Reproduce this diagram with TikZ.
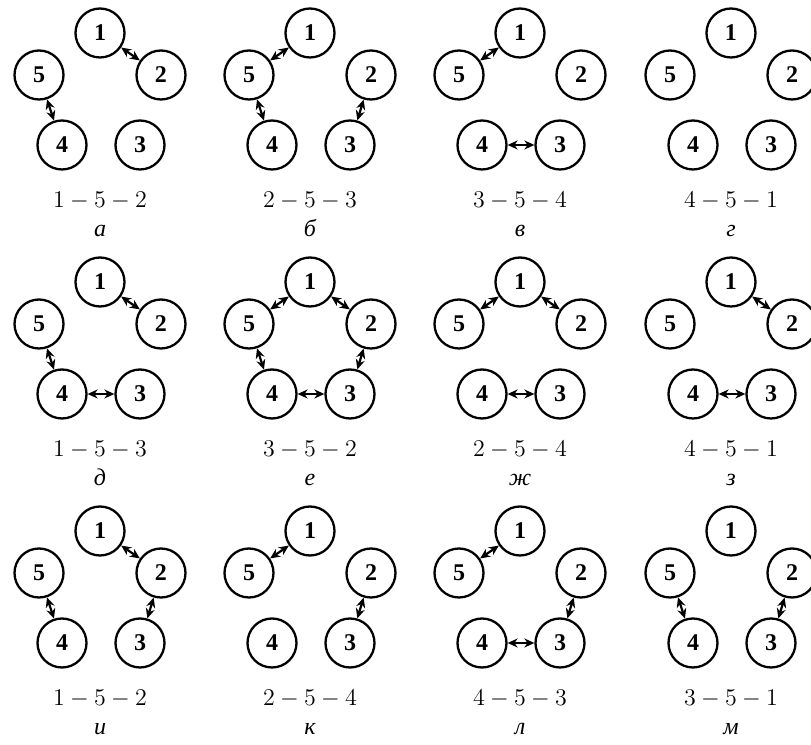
\documentclass[tikz,border=0pt]{standalone}
\usepackage{fontspec}
\newfontfamily\timesfont{Liberation Serif}
\usepackage{tikz}
\usetikzlibrary{arrows.meta}
\tikzset{
  vertex/.style={draw, circle, line width=1.15pt, minimum size=24.5pt, inner sep=0pt, font=\timesfont\bfseries\large},
  expr/.style={anchor=base, font=\large},
  caption/.style={anchor=base, font=\timesfont\itshape\large},
  link/.style={{Stealth[length=5pt, width=4.5pt]}-{Stealth[length=5pt, width=4.5pt]}, line width=1.1pt}
}
% five vertices, the sequence and the letter of one panel
\newcommand{\ring}[5]{%
  \begin{scope}[shift={(#2,#3)}]
    \node[vertex] (#1-1) at (0,64) {1};
    \node[vertex] (#1-2) at (61,22) {2};
    \node[vertex] (#1-3) at (40,-48) {3};
    \node[vertex] (#1-4) at (-38,-48) {4};
    \node[vertex] (#1-5) at (-61,22) {5};
    \node[expr] (#1-e) at (0,-111) {$#4$};
    \node[caption] (#1-c) at (0,-140) {#5};
  \end{scope}}

\begin{document}
\begin{tikzpicture}[x=0.5pt, y=0.5pt]
\useasboundingbox (0,0) rectangle (811,745);
% first row
\ring{a}{100}{648}{1-5-2}{а}
\ring{b}{310}{648}{2-5-3}{б}
\ring{v}{520}{648}{3-5-4}{в}
\ring{g}{731}{648}{4-5-1}{г}
% second row
\ring{d}{100}{399}{1-5-3}{д}
\ring{e}{310}{399}{3-5-2}{е}
\ring{zh}{520}{399}{2-5-4}{ж}
\ring{z}{731}{399}{4-5-1}{з}
% third row
\ring{i}{100}{150}{1-5-2}{и}
\ring{k}{310}{150}{2-5-4}{к}
\ring{l}{520}{150}{4-5-3}{л}
\ring{m}{731}{150}{3-5-1}{м}

\draw[link] (a-1) -- (a-2);
\draw[link] (a-5) -- (a-4);

\draw[link] (b-5) -- (b-1);
\draw[link] (b-5) -- (b-4);
\draw[link] (b-2) -- (b-3);

\draw[link] (v-5) -- (v-1);
\draw[link] (v-4) -- (v-3);

\draw[link] (d-1) -- (d-2);
\draw[link] (d-5) -- (d-4);
\draw[link] (d-4) -- (d-3);

\draw[link] (e-5) -- (e-1);
\draw[link] (e-1) -- (e-2);
\draw[link] (e-2) -- (e-3);
\draw[link] (e-4) -- (e-3);
\draw[link] (e-5) -- (e-4);

\draw[link] (zh-5) -- (zh-1);
\draw[link] (zh-1) -- (zh-2);
\draw[link] (zh-4) -- (zh-3);

\draw[link] (z-1) -- (z-2);
\draw[link] (z-4) -- (z-3);

\draw[link] (i-1) -- (i-2);
\draw[link] (i-5) -- (i-4);
\draw[link] (i-2) -- (i-3);

\draw[link] (k-5) -- (k-1);
\draw[link] (k-2) -- (k-3);

\draw[link] (l-5) -- (l-1);
\draw[link] (l-2) -- (l-3);
\draw[link] (l-4) -- (l-3);

\draw[link] (m-5) -- (m-4);
\draw[link] (m-2) -- (m-3);
\end{tikzpicture}
\end{document}
